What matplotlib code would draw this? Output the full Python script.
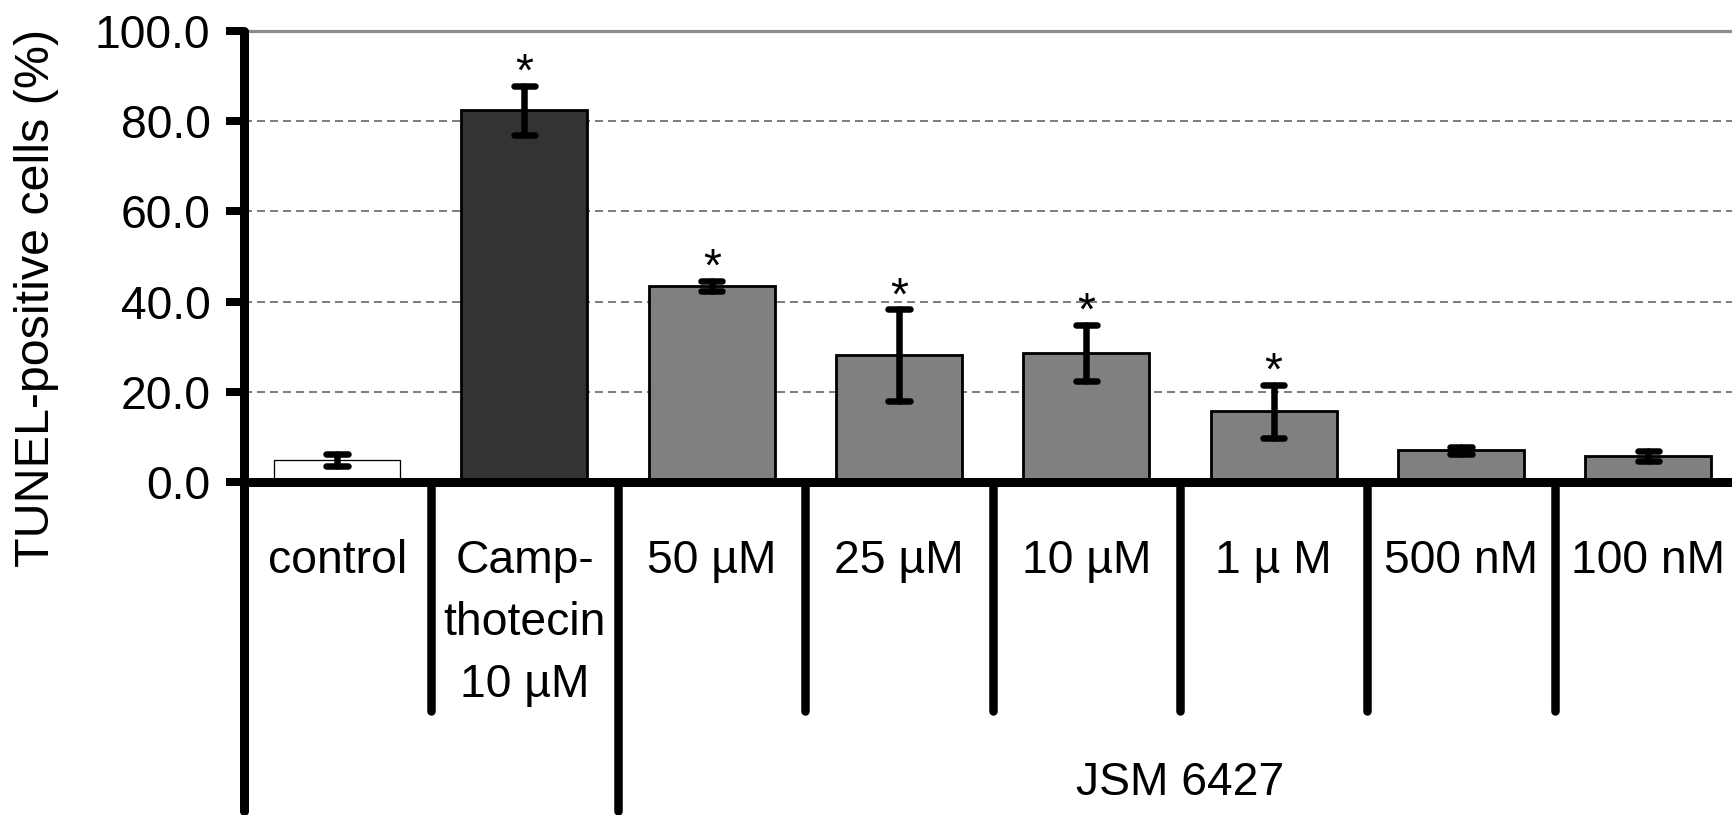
import matplotlib
matplotlib.use("Agg")
import matplotlib.pyplot as plt

plt.rcParams['font.family'] = ['Liberation Sans', 'DejaVu Sans']

# ---- data ----
categories = ["control", "Camp-\nthotecin\n10 µM", "50 µM", "25 µM", "10 µM",
              "1 µ M", "500 nM", "100 nM"]
means = [4.9, 82.4, 43.5, 28.1, 28.6, 15.7, 7.0, 5.8]
errors = [1.4, 5.4, 1.1, 10.2, 6.2, 5.9, 0.8, 1.1]
significant = [False, True, True, True, True, True, False, False]
bar_colors = ["#ffffff", "#333333", "#808080", "#808080", "#808080",
              "#808080", "#808080", "#808080"]
group_sizes = [2, 6]
group_labels = ["", "JSM 6427"]
yticks = [0, 20, 40, 60, 80, 100]
ylabel = "TUNEL-positive cells (%)"

W, H, DPI = 1732, 815, 100
fig = plt.figure(figsize=(W / DPI, H / DPI), dpi=DPI)
px = 72.0 / DPI  # points per pixel

ax_left, ax_right = 243.5, 1742.0
ax_top, ax_bot = 31.0, 482.0
ax = fig.add_axes([ax_left / W, (H - ax_bot) / H,
                   (ax_right - ax_left) / W, (ax_bot - ax_top) / H])
ax.set_xlim(-0.5, len(categories) - 0.5)
ax.set_ylim(0, 100)
ax.patch.set_alpha(0)

FS = 33.3

# gridlines
for t in yticks[1:]:
    if t == yticks[-1]:
        ax.axhline(t, color="#8c8c8c", lw=3.2 * px, zorder=0, clip_on=False)
    else:
        ax.axhline(t, color="#808080", lw=2.0 * px, zorder=0,
                   linestyle=(0, (4.0, 2.5)))

x = list(range(len(categories)))
lws = [1.3 * px] + [2.8 * px] * (len(categories) - 1)
ax.bar(x, means, width=0.673, color=bar_colors, edgecolor="black",
       linewidth=lws, zorder=2)

# error bars with rounded ends
lo = [m - e for m, e in zip(means, errors)]
hi = [m + e for m, e in zip(means, errors)]
ax.vlines(x, lo, hi, colors="black", lw=6.5 * px, capstyle="round", zorder=3)
cw = 0.057
ax.hlines(hi, [i - cw for i in x], [i + cw for i in x], colors="black",
          lw=6.5 * px, capstyle="round", zorder=3)
ax.hlines(lo, [i - cw for i in x], [i + cw for i in x], colors="black",
          lw=6.5 * px, capstyle="round", zorder=3)

for i, s in enumerate(significant):
    if s:
        ax.text(i, hi[i], "*", ha="center", va="baseline", fontsize=FS,
                zorder=4)

# spines / axes lines
for s in ax.spines.values():
    s.set_visible(False)
trans = ax.get_xaxis_transform()
ax.plot([-0.5, len(categories) - 0.5], [0, 0], color="black", lw=9 * px,
        solid_capstyle="butt", clip_on=False, zorder=5)

# dividers
bounds = [-0.5]
for g in group_sizes:
    bounds.append(bounds[-1] + g)
long_bottom = -(811 - ax_bot) / (ax_bot - ax_top)
short_bottom = -(711 - ax_bot) / (ax_bot - ax_top)
ax.plot([-0.5, -0.5], [1.0, long_bottom], transform=trans, color="black",
        lw=9 * px, solid_capstyle="round", clip_on=False, zorder=5)
for b in bounds[1:-1]:
    ax.plot([b, b], [0, long_bottom], transform=trans, color="black",
            lw=8.5 * px, solid_capstyle="round", clip_on=False, zorder=5)
for i in range(1, len(categories)):
    b = i - 0.5
    if b in bounds:
        continue
    ax.plot([b, b], [0, short_bottom], transform=trans, color="black",
            lw=8.5 * px, solid_capstyle="round", clip_on=False, zorder=5)

# y ticks
ax.set_yticks(yticks)
ax.set_yticklabels([f"{t:.1f}" for t in yticks], fontsize=FS)
ax.tick_params(axis="y", length=18.5 * px, width=8 * px, pad=14.5 * px,
               direction="out", color="black")
ax.set_xticks([])

# category labels
for i, lab in enumerate(categories):
    for j, line in enumerate(lab.split("\n")):
        ax.annotate(line, xy=(i, 0), xycoords="data",
                    xytext=(0, -(91 + 62 * j) * px), textcoords="offset points",
                    ha="center", va="baseline", fontsize=FS, annotation_clip=False)

# group labels
for k, g in enumerate(group_labels):
    if g:
        cx = (bounds[k] + bounds[k + 1]) / 2
        ax.annotate(g, xy=(cx, 0), xycoords="data",
                    xytext=(0, -(795 - ax_bot) * px), textcoords="offset points",
                    ha="center", va="baseline", fontsize=FS, annotation_clip=False)

fig.text(37 / W, 1 - 298 / H, ylabel, rotation=90, ha="center", va="center",
         fontsize=34.8)

fig.savefig("out.png", dpi=DPI)
